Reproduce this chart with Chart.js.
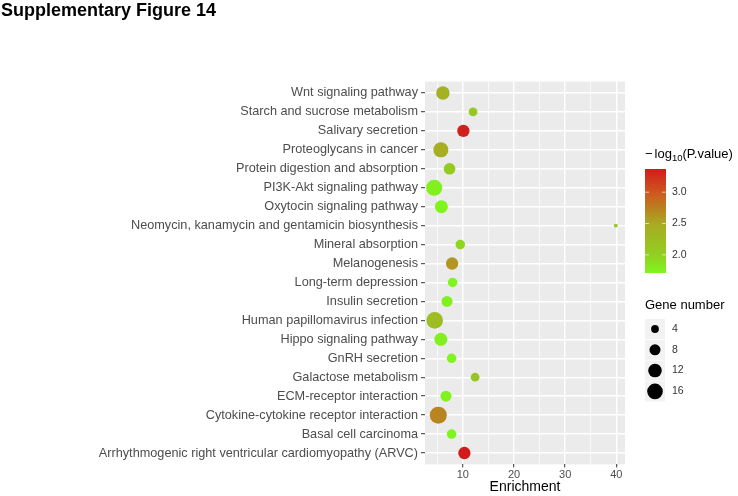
<!DOCTYPE html>
<html>
<head>
<meta charset="utf-8">
<script src="https://cdn.jsdelivr.net/npm/chart.js@4.4.0/dist/chart.umd.min.js"></script>
<style>
  html, body { margin: 0; padding: 0; background: #fff; }
  #wrap { width: 738px; height: 496px; position: relative; }
</style>
</head>
<body>
<div id="wrap"><canvas id="enrichChart" width="738" height="496"></canvas></div>
<script>
// KEGG pathways, top to bottom as in the figure
var pathways = [
    'Wnt signaling pathway',
    'Starch and sucrose metabolism',
    'Salivary secretion',
    'Proteoglycans in cancer',
    'Protein digestion and absorption',
    'PI3K-Akt signaling pathway',
    'Oxytocin signaling pathway',
    'Neomycin, kanamycin and gentamicin biosynthesis',
    'Mineral absorption',
    'Melanogenesis',
    'Long-term depression',
    'Insulin secretion',
    'Human papillomavirus infection',
    'Hippo signaling pathway',
    'GnRH secretion',
    'Galactose metabolism',
    'ECM-receptor interaction',
    'Cytokine-cytokine receptor interaction',
    'Basal cell carcinoma',
    'Arrhythmogenic right ventricular cardiomyopathy (ARVC)'
];
var enrichment = [6.1, 12.0, 10.1, 5.7, 7.4, 4.4, 5.8, 39.9, 9.5, 7.9,
                  8.0, 6.9, 4.5, 5.7, 7.8, 12.4, 6.7, 5.2, 7.8, 10.3];
var geneNumber = [12, 5, 10, 15, 9, 17, 11, 1, 6, 10,
                  6, 8, 18, 11, 6, 5, 8, 19, 6, 10];
var logP = [2.4, 2.1, 3.35, 2.45, 2.05, 1.75, 1.72, 2.1, 1.95, 2.62,
            1.71, 1.75, 2.25, 1.75, 1.72, 2.15, 1.73, 2.72, 1.71, 3.37];

var xTickValues = [5, 10, 15, 20, 25, 30, 35, 40];
var colorTicks = [2.0, 2.5, 3.0];
var colorLimits = [1.71, 3.37];
var sizeBreaks = [4, 8, 12, 16];

// gradient stops
var gradValues = [1.71, 2.0, 2.5, 3.0, 3.37];
var gradColors = [[127, 245, 30], [146, 207, 34], [169, 170, 34], [206, 86, 30], [208, 28, 28]];

function colorFor(v) {
    v = Math.max(colorLimits[0], Math.min(colorLimits[1], v));
    for (var i = 0; i < gradValues.length - 1; i++) {
        if (v <= gradValues[i + 1]) {
            var t = (v - gradValues[i]) / (gradValues[i + 1] - gradValues[i]);
            var c = gradColors[i].map(function(a, k) { return Math.round(a + (gradColors[i + 1][k] - a) * t); });
            return 'rgb(' + c.join(',') + ')';
        }
    }
    return 'rgb(' + gradColors[gradColors.length - 1].join(',') + ')';
}
function radiusFor(n) { return 1.95 * Math.sqrt(n); }

var points = enrichment.map(function(x, i) {
    return { x: x, y: i, r: radiusFor(geneNumber[i]) };
});

var FONT = '"Liberation Sans", Arial, sans-serif';

var legendPlugin = {
    id: 'ggLegend',
    beforeDraw: function(chart) {
        var a = chart.chartArea, ctx = chart.ctx;
        ctx.save();
        ctx.fillStyle = '#EBEBEB';
        ctx.fillRect(a.left, a.top, a.right - a.left, a.bottom - a.top);
        ctx.restore();
    },
    afterDraw: function(chart) {
        var ctx = chart.ctx;
        ctx.save();
        // figure title
        ctx.fillStyle = '#000';
        ctx.textBaseline = 'alphabetic';
        ctx.textAlign = 'left';
        ctx.font = 'bold 18px ' + FONT;
        ctx.fillText('Supplementary Figure 14', 1, 16);

        // colour legend title: -log10(P.value)
        ctx.font = '13px ' + FONT;
        var x0 = 645, yb = 158;
        ctx.fillText('\u2212', x0, yb);
        var x = x0 + ctx.measureText('\u2212').width + 2;
        ctx.fillText('log', x, yb);
        x += ctx.measureText('log').width;
        ctx.font = '9.5px ' + FONT;
        ctx.fillText('10', x, yb + 3);
        x += ctx.measureText('10').width;
        ctx.font = '13px ' + FONT;
        ctx.fillText('(P.value)', x, yb);

        // colour bar
        var barL = 645, barW = 21, barTop = 169, barBot = 273;
        var grad = ctx.createLinearGradient(0, barBot, 0, barTop);
        for (var s = 0; s <= 40; s++) {
            grad.addColorStop(s / 40, colorFor(colorLimits[0] + (colorLimits[1] - colorLimits[0]) * s / 40));
        }
        ctx.fillStyle = grad;
        ctx.fillRect(barL, barTop, barW, barBot - barTop);
        ctx.strokeStyle = 'rgba(255,255,255,0.8)';
        ctx.lineWidth = 0.8;
        ctx.font = '10.5px ' + FONT;
        ctx.textBaseline = 'middle';
        colorTicks.forEach(function(v) {
            var y = barBot - (v - colorLimits[0]) / (colorLimits[1] - colorLimits[0]) * (barBot - barTop);
            ctx.beginPath();
            ctx.moveTo(barL, y); ctx.lineTo(barL + 4, y);
            ctx.moveTo(barL + barW - 4, y); ctx.lineTo(barL + barW, y);
            ctx.stroke();
            ctx.fillStyle = '#333';
            ctx.fillText(v.toFixed(1), 672, y);
        });

        // size legend
        ctx.fillStyle = '#000';
        ctx.textBaseline = 'alphabetic';
        ctx.font = '13px ' + FONT;
        ctx.fillText('Gene number', 645, 309);
        var keyTop = 319, keyH = 20.8;
        sizeBreaks.forEach(function(n, i) {
            var top = keyTop + i * keyH;
            ctx.fillStyle = '#F2F2F2';
            ctx.fillRect(645, top, 20, keyH - 0.8);
            var cy = top + keyH / 2 - 0.4;
            ctx.fillStyle = '#000';
            ctx.beginPath();
            ctx.arc(655, cy, radiusFor(n), 0, Math.PI * 2);
            ctx.fill();
            ctx.fillStyle = '#333';
            ctx.font = '10.5px ' + FONT;
            ctx.textBaseline = 'middle';
            ctx.fillText(String(n), 672, cy);
        });
        ctx.restore();
    }
};

var ctx = document.getElementById('enrichChart').getContext('2d');
var chart = new Chart(ctx, {
    type: 'bubble',
    data: {
        datasets: [{
            data: points,
            backgroundColor: logP.map(colorFor),
            borderWidth: 0
        }]
    },
    options: {
        responsive: false,
        animation: false,
        devicePixelRatio: 1,
        events: [],
        layout: { padding: { left: 0, top: 81.6, right: 113, bottom: 0 } },
        plugins: { legend: { display: false }, tooltip: { enabled: false } },
        scales: {
            x: {
                type: 'linear',
                min: 2.6,
                max: 41.7,
                afterBuildTicks: function(scale) {
                    scale.ticks = xTickValues.map(function(v) { return { value: v }; });
                },
                afterFit: function(scale) { scale.height = 31.6; },
                border: { display: false },
                grid: {
                    color: '#fff',
                    lineWidth: function(c) { return c.tick && c.tick.value % 10 === 0 ? 1.4 : 0.7; },
                    tickColor: function(c) { return c.tick && c.tick.value % 10 === 0 ? '#333' : 'rgba(0,0,0,0)'; },
                    tickLength: 3,
                    tickWidth: 1
                },
                ticks: {
                    autoSkip: false,
                    maxRotation: 0,
                    padding: 1,
                    color: '#4D4D4D',
                    font: { family: FONT, size: 11 },
                    callback: function(v) { return v % 10 === 0 ? String(v) : ''; }
                },
                title: {
                    display: true,
                    text: 'Enrichment',
                    color: '#000',
                    padding: { top: 0, bottom: 0 },
                    font: { family: FONT, size: 14 }
                }
            },
            y: {
                type: 'linear',
                reverse: true,
                min: -0.6,
                max: 19.6,
                afterBuildTicks: function(scale) {
                    scale.ticks = pathways.map(function(p, i) { return { value: i }; });
                },
                afterFit: function(scale) { scale.width = 425; },
                border: { display: false },
                grid: {
                    color: '#fff',
                    lineWidth: 1.4,
                    tickColor: '#333',
                    tickLength: 4,
                    tickWidth: 1
                },
                ticks: {
                    autoSkip: false,
                    padding: 3,
                    color: '#4D4D4D',
                    font: { family: FONT, size: 12.7 },
                    callback: function(v) { return pathways[v]; }
                }
            }
        }
    },
    plugins: [legendPlugin]
});
</script>
</body>
</html>
